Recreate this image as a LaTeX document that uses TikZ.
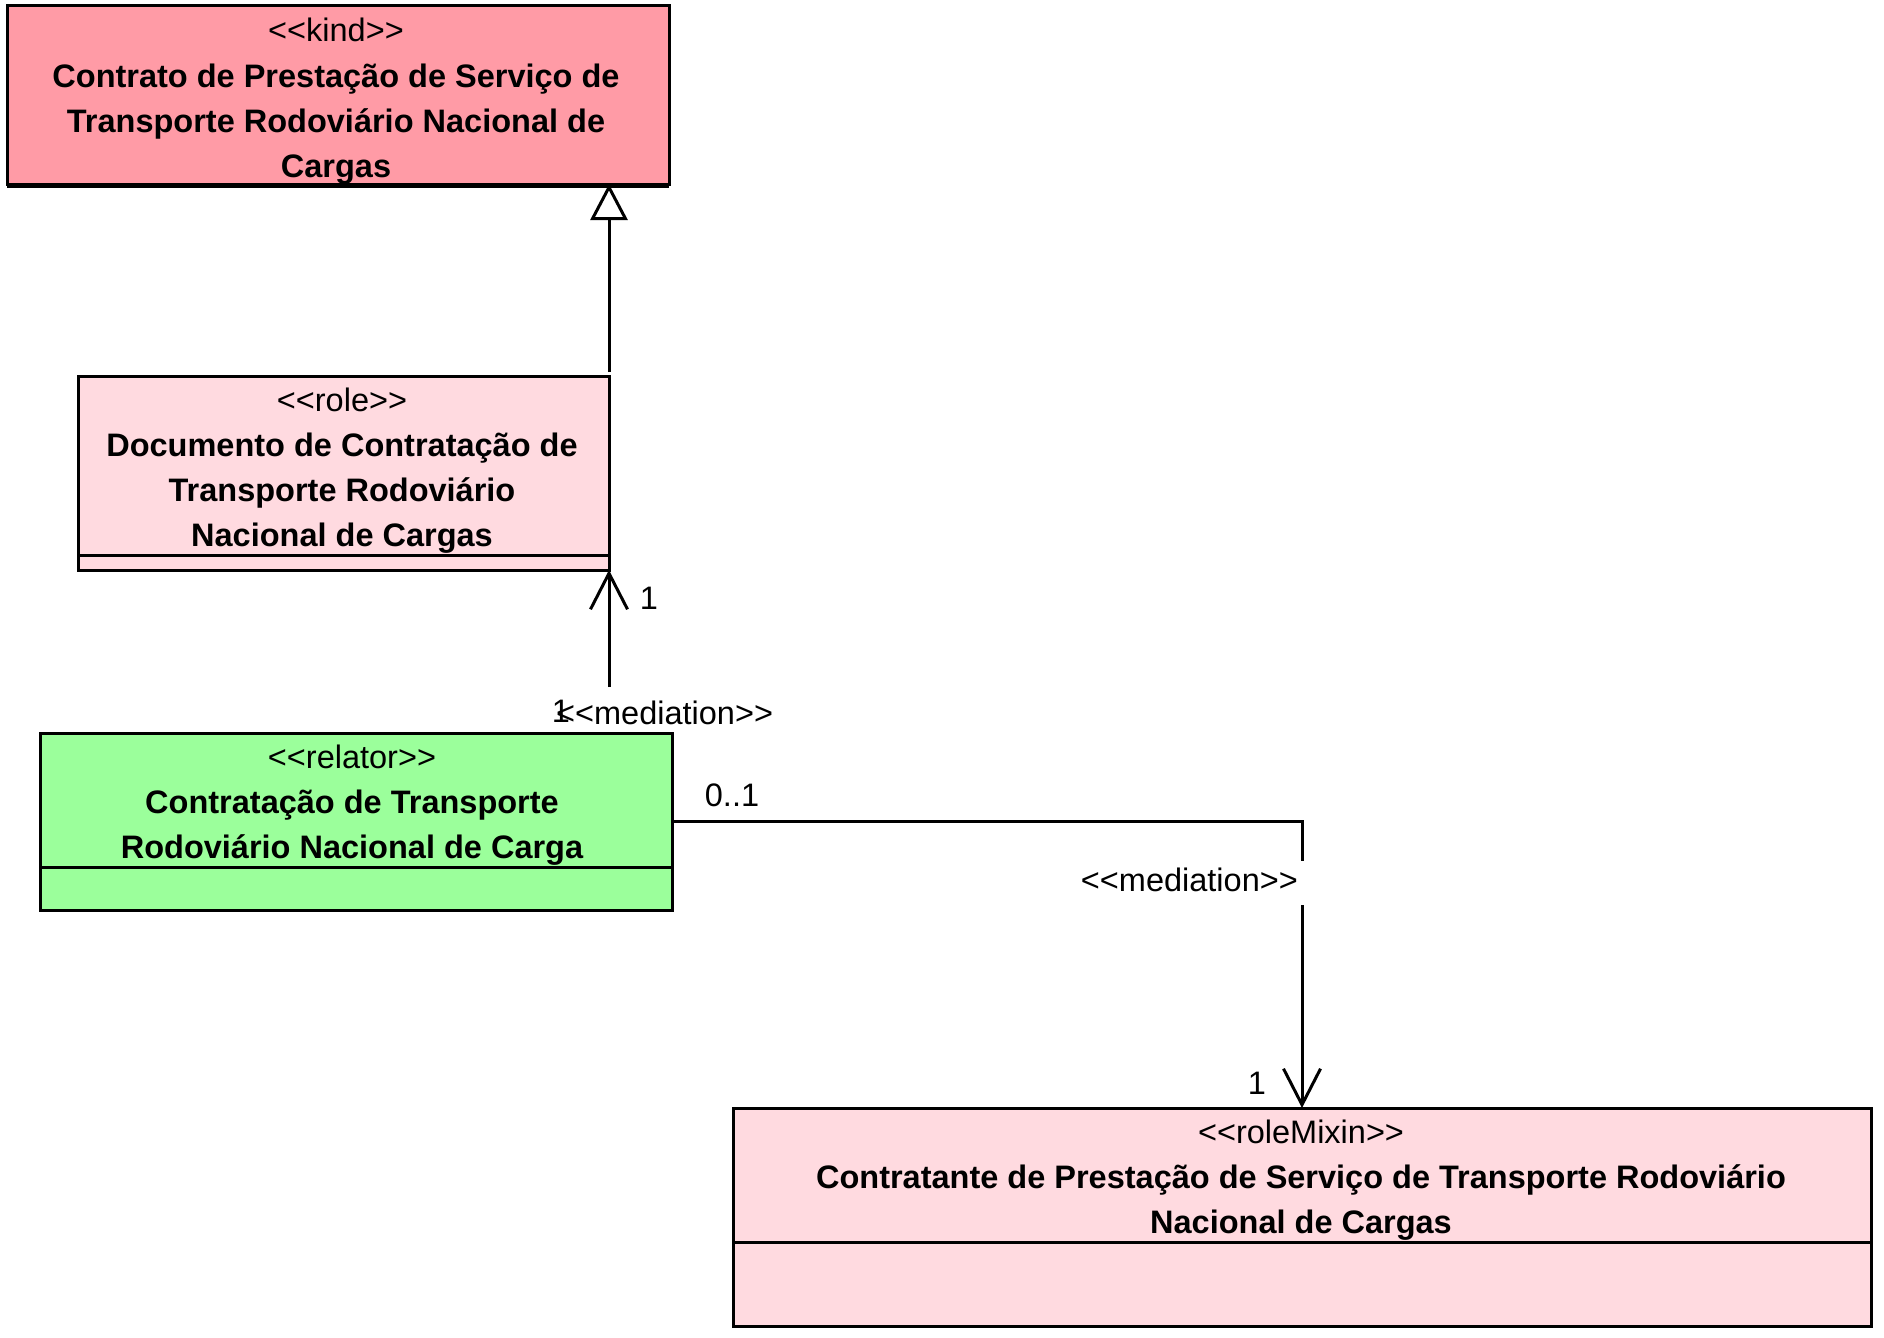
\documentclass[tikz,border=0pt]{standalone}
\usepackage{fontspec}
\setmainfont{Liberation Sans}
\usetikzlibrary{arrows.meta}
\definecolor{kindfill}{RGB}{255,155,166}
\definecolor{rolefill}{RGB}{255,218,224}
\definecolor{relfill}{RGB}{155,255,155}
\newcommand\stq[1]{<\kern0pt<#1>\kern0pt>}
\begin{document}
\begin{tikzpicture}[x=1pt,y=-1pt,
  box/.style={draw=black,line width=3pt,rectangle,anchor=north west,inner sep=0pt,outer sep=0pt},
  stereo/.style={font=\fontsize{32.5}{45}\selectfont,inner sep=0pt},
  cname/.style={font=\fontsize{32.5}{45}\selectfont\bfseries,align=center,inner sep=0pt},
  lbl/.style={font=\fontsize{32.5}{35}\selectfont,inner sep=0pt},
  medlbl/.style={lbl,fill=white,inner xsep=10pt,inner ysep=6pt,text height=24pt,text depth=8pt},
  conn/.style={line width=3pt},
  gen/.style={conn,-{Triangle[open,length=36pt,width=37pt,fill=white,line width=3pt]}},
  med/.style={conn,-{Straight Barb[length=36pt,width=37pt,line width=3pt]}}
  ]
\useasboundingbox (0,0) rectangle (1884,1338);

% kind
\node[box,fill=kindfill,minimum width=662pt,minimum height=178pt] (kind) at (7,6) {};
\draw[line width=5pt] ([yshift=-1pt]kind.south west) -- ([yshift=-1pt]kind.south east);
\node[stereo] (kindst) at (336,30) {\stq{kind}};
\node[cname] (kindnm) at (336,124) {Contrato de Prestação de Serviço de\\Transporte Rodoviário Nacional de\\Cargas};

% role
\node[box,fill=rolefill,minimum width=531pt,minimum height=194pt] (role) at (78,376) {};
\draw[line width=3pt] (role.west |- 0,555) -- (role.east |- 0,555);
\node[stereo] (rolest) at (342,400) {\stq{role}};
\node[cname] (rolenm) at (342,493) {Documento de Contratação de\\Transporte Rodoviário\\Nacional de Cargas};

% relator
\node[box,fill=relfill,minimum width=632pt,minimum height=177pt] (relator) at (40,733) {};
\draw[line width=3pt] (relator.west |- 0,867) -- (relator.east |- 0,867);
\node[stereo] (relst) at (352,757) {\stq{relator}};
\node[cname] (relnm) at (352,828) {Contratação de Transporte\\Rodoviário Nacional de Carga};

% roleMixin
\node[box,fill=rolefill,minimum width=1138pt,minimum height=218pt] (rmix) at (733,1108) {};
\draw[line width=3pt] (rmix.west |- 0,1242) -- (rmix.east |- 0,1242);
\node[stereo] (rmixst) at (1301,1132) {\stq{roleMixin}};
\node[cname] (rmixnm) at (1301,1203) {Contratante de Prestação de Serviço de Transporte Rodoviário\\Nacional de Cargas};

% generalization
\coordinate (g1) at (609,372);
\draw[gen] (g1) -- (kind.south -| g1);

% mediation 1
\coordinate (m1) at (609,687);
\draw[med] (m1) -- (role.south east);
\node[lbl] (m1mult) at (649,598) {1};
\node[lbl,anchor=west] (m1name) at (556,713) {\stq{mediation}};
\node[lbl] (m1mult2) at (561,711) {1};

% mediation 2
\draw[med] (relator.east) -| (rmix.north);
\node[medlbl,anchor=east] (m2name) at (1308,883) {\stq{mediation}};
\node[lbl] (m2src) at (732,795) {0..1};
\node[lbl] (m2tgt) at (1257,1083) {1};
\end{tikzpicture}
\end{document}
